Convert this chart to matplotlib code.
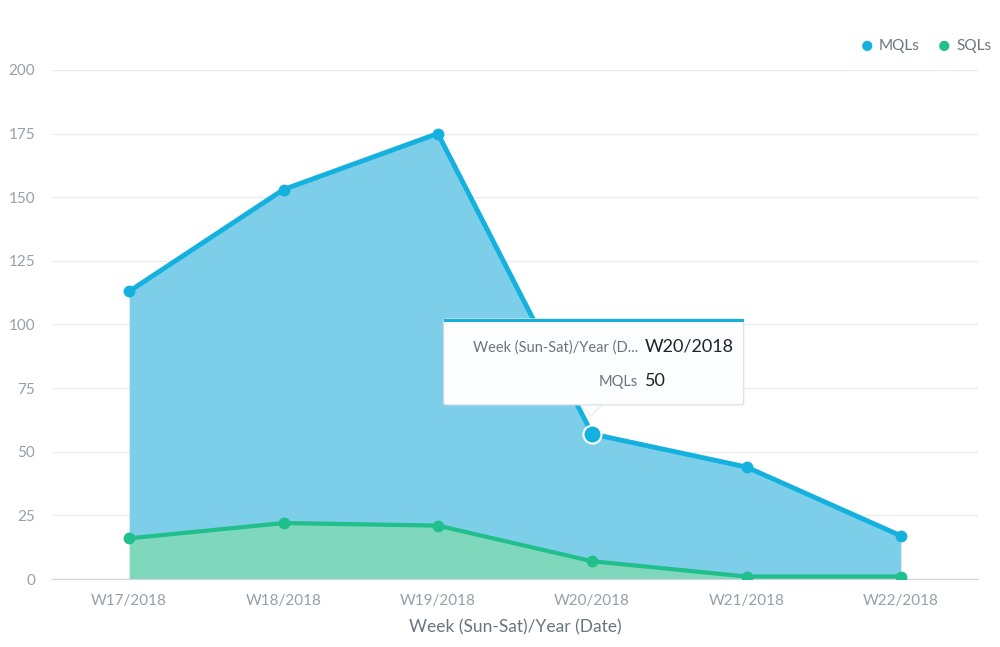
import matplotlib
matplotlib.use("Agg")
import matplotlib.pyplot as plt
from matplotlib.patches import FancyBboxPatch, Polygon, Rectangle
import numpy as np

plt.rcParams['font.family'] = ['Lato', 'DejaVu Sans']

weeks = ['W17/2018', 'W18/2018', 'W19/2018', 'W20/2018', 'W21/2018', 'W22/2018']
sqls = [16, 22, 21, 7, 1, 1]
mqls = [97, 131, 154, 50, 43, 16]
yticks = [0, 25, 50, 75, 100, 125, 150, 175, 200]

mql_line = '#14b1df'
mql_fill = '#7dcfe9'
sql_line = '#20bf8b'
sql_fill = '#7fd7bc'
tick_col = '#94a0ab'

x = np.arange(len(weeks))
total = np.array(sqls) + np.array(mqls)

fig = plt.figure(figsize=(10, 6.47), dpi=100)
ax = fig.add_axes([0.052, 0.105, 0.926, 0.787])

# stacked areas
ax.fill_between(x, 0, sqls, color=sql_fill, lw=0, zorder=2)
ax.fill_between(x, sqls, total, color=mql_fill, lw=0, zorder=2)
ax.plot(x, total, color=mql_line, lw=3.5, marker='o', ms=7.5, zorder=4, solid_capstyle='round')
ax.plot(x, sqls, color=sql_line, lw=3, marker='o', ms=7.5, zorder=4, solid_capstyle='round')

# hovered point
ax.plot([x[3]], [total[3]], 'o', ms=13, color=mql_line, mec='white', mew=1.5, zorder=6)

ax.set_xlim(-0.5, len(weeks) - 0.5)
ax.set_ylim(0, 200)
ax.set_yticks(yticks)
ax.set_xticks(x)
ax.set_xticklabels(weeks)
ax.yaxis.grid(True, color='#eaedf0', lw=1)
ax.set_axisbelow(True)
for s in ['top', 'right', 'left']:
    ax.spines[s].set_visible(False)
ax.spines['bottom'].set_color('#ccd5dc')
ax.tick_params(axis='both', length=0, labelsize=11, colors=tick_col)
ax.tick_params(axis='x', pad=11)
ax.tick_params(axis='y', pad=12)
ax.set_xlabel('Week (Sun-Sat)/Year (Date)', fontsize=12.5, color='#6b747e', labelpad=8)

# legend
fig.text(0.867, 0.929, '●', color=mql_line, fontsize=15, ha='center', va='center')
fig.text(0.879, 0.929, 'MQLs', color='#6b747e', fontsize=11, va='center')
fig.text(0.944, 0.929, '●', color=sql_line, fontsize=15, ha='center', va='center')
fig.text(0.956, 0.929, 'SQLs', color='#6b747e', fontsize=11, va='center')

# tooltip
bx0, bx1, by0, by1 = 0.423, 0.747, 0.342, 0.511
tx = 0.582
tip = FancyBboxPatch((bx0, by0), bx1 - bx0, by1 - by0, boxstyle='round,pad=0,rounding_size=0.004',
                     transform=ax.transAxes, fc='#fbfdfe', ec='#d8dde2', lw=0.8, zorder=8)
ax.add_patch(tip)
ax.add_patch(Rectangle((bx0, by1 - 0.006), bx1 - bx0, 0.006, transform=ax.transAxes,
                       fc=mql_line, ec='none', zorder=9))
ax.add_patch(Polygon([(tx - 0.013, by0 + 0.002), (tx + 0.013, by0 + 0.002), (tx, by0 - 0.022)],
                     closed=True, transform=ax.transAxes, fc='#fbfdfe', ec='#e2e6ea', lw=0.6, zorder=7))
ax.add_patch(Rectangle((tx - 0.015, by0 + 0.001), 0.03, 0.004, transform=ax.transAxes,
                       fc='#fbfdfe', ec='none', zorder=9))
ax.text(0.633, 0.454, 'Week (Sun-Sat)/Year (D...', transform=ax.transAxes, ha='right', va='center',
        fontsize=10.5, color='#6b747e', zorder=10)
ax.text(0.640, 0.456, weeks[3], transform=ax.transAxes, ha='left', va='center',
        fontsize=13, color='#1f2328', zorder=10)
ax.text(0.633, 0.387, 'MQLs', transform=ax.transAxes, ha='right', va='center',
        fontsize=10.5, color='#6b747e', zorder=10)
ax.text(0.640, 0.389, str(mqls[3]), transform=ax.transAxes, ha='left', va='center',
        fontsize=13, color='#1f2328', zorder=10)

fig.savefig('out.png', dpi=100, facecolor='white')
